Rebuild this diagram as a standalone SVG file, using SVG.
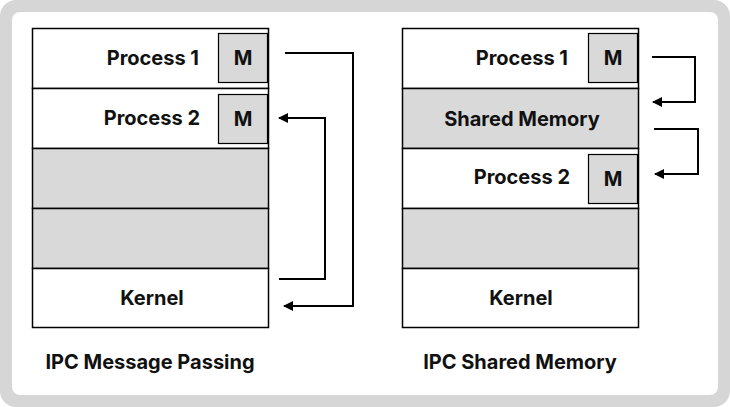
<svg xmlns="http://www.w3.org/2000/svg" width="730" height="407" viewBox="0 0 730 407">
<defs>
<style>
.row{stroke:#000;stroke-width:1.5}
.w{fill:#fff}
.g{fill:#d9d9d9}
.m{fill:#d9d9d9;stroke:#000;stroke-width:1.2}
text{font-family:Inter,"Liberation Sans",sans-serif;font-weight:700;font-size:20px;fill:#111;dominant-baseline:central}
.c{stroke:#000;stroke-width:2;fill:none;marker-end:url(#ah)}
</style>
<marker id="ah" viewBox="0 0 10 10" refX="9" refY="5" markerWidth="5" markerHeight="5" orient="auto" markerUnits="strokeWidth">
<path d="M0,0 L10,5 L0,10 z" fill="#000"/>
</marker>
</defs>
<rect x="0" y="0" width="730" height="407" rx="16" fill="#d6d6d6"/>
<rect x="12" y="12" width="706" height="383" rx="8" fill="#fff"/>

<g id="left-stack">
<g id="l-p1"><rect class="row w" x="32.5" y="28.5" width="236" height="60"/><text x="199" y="58" text-anchor="end">Process 1</text>
<rect class="m" x="218.5" y="33.5" width="49" height="49"/><text x="243" y="58" text-anchor="middle">M</text></g>
<g id="l-p2"><rect class="row w" x="32.5" y="88.5" width="236" height="60"/><text x="200" y="118" text-anchor="end">Process 2</text>
<rect class="m" x="218.5" y="94.5" width="49" height="49"/><text x="243" y="119" text-anchor="middle">M</text></g>
<g id="l-r3"><rect class="row g" x="32.5" y="148.5" width="236" height="60"/></g>
<g id="l-r4"><rect class="row g" x="32.5" y="208.5" width="236" height="60"/></g>
<g id="l-kernel"><rect class="row w" x="32.5" y="268.5" width="236" height="59"/><text x="152" y="298" text-anchor="middle">Kernel</text></g>
</g>

<g id="right-stack">
<g id="r-p1"><rect class="row w" x="402.5" y="28.5" width="236" height="60"/><text x="568" y="58" text-anchor="end">Process 1</text>
<rect class="m" x="588.5" y="33.5" width="49" height="49"/><text x="613" y="58" text-anchor="middle">M</text></g>
<g id="r-shared"><rect class="row g" x="402.5" y="88.5" width="236" height="60"/><text x="522" y="119" text-anchor="middle">Shared Memory</text></g>
<g id="r-p2"><rect class="row w" x="402.5" y="148.5" width="236" height="60"/><text x="570" y="177" text-anchor="end">Process 2</text>
<rect class="m" x="588.5" y="154.5" width="49" height="49"/><text x="613" y="179" text-anchor="middle">M</text></g>
<g id="r-r4"><rect class="row g" x="402.5" y="208.5" width="236" height="60"/></g>
<g id="r-kernel"><rect class="row w" x="402.5" y="268.5" width="236" height="59"/><text x="521" y="298" text-anchor="middle">Kernel</text></g>
</g>

<g id="connectors">
<path class="c" d="M285,53 H353 V306 H284"/>
<path class="c" d="M279,279 H325 V118 H279"/>
<path class="c" d="M652,57 H695 V102 H653"/>
<path class="c" d="M654,129 H698 V174 H655"/>
</g>

<text x="150" y="362" text-anchor="middle">IPC Message Passing</text>
<text x="520" y="362" text-anchor="middle">IPC Shared Memory</text>
</svg>
